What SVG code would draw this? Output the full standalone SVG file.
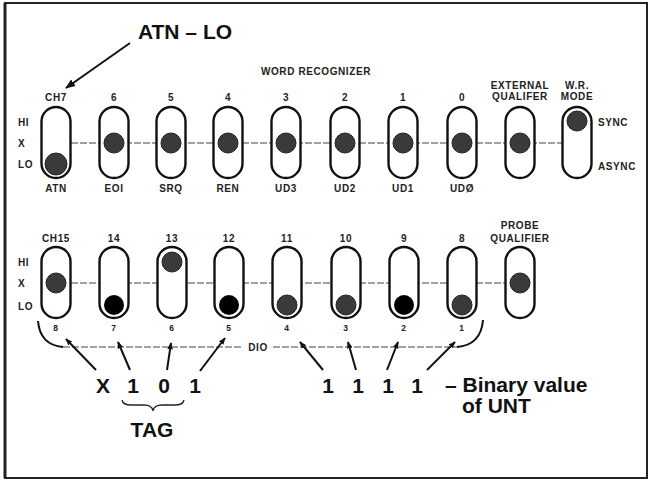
<svg xmlns="http://www.w3.org/2000/svg" width="653" height="481" viewBox="0 0 653 481">
<defs>
<marker id="ah" viewBox="0 0 10 10" refX="9" refY="5" markerWidth="7" markerHeight="7" markerUnits="userSpaceOnUse" orient="auto">
<path d="M0,1 L10,5 L0,9 z" fill="#111"/>
</marker>
<marker id="ahbig" viewBox="0 0 10 10" refX="9" refY="5" markerWidth="10" markerHeight="10" markerUnits="userSpaceOnUse" orient="auto">
<path d="M0,1 L10,5 L0,9 z" fill="#111"/>
</marker>
</defs>
<style>
.sw{fill:#fff;stroke:#111;stroke-width:2.4}
.dg{fill:#3a3a3a;stroke:#222;stroke-width:1}
.db{fill:#000}
.t{font-family:"Liberation Sans",Arial,sans-serif;font-weight:bold;fill:#222;font-size:10px;letter-spacing:0.6px}
.tc{text-anchor:middle}
.n{font-size:8.5px}
.big{font-family:"Liberation Sans",Arial,sans-serif;font-weight:bold;fill:#111;font-size:21px}
.cn{stroke:#444;stroke-width:1.2;stroke-dasharray:7 2;fill:none}
.ar{stroke:#111;stroke-width:2;fill:none}
</style>
<rect x="5" y="3" width="642" height="475" fill="#fff" stroke="#222" stroke-width="2"/>
<line x1="5" y1="3" x2="5" y2="478" stroke="#222" stroke-width="3"/>

<g id="title">
<text class="big" x="185" y="39" text-anchor="middle" font-size="23">ATN – LO</text>
<text class="t tc" x="316" y="75">WORD RECOGNIZER</text>
</g>

<g id="connectors">
<line class="cn" x1="71" y1="143" x2="562" y2="143"/>
<line class="cn" x1="71" y1="283" x2="505" y2="283"/>
<line class="ar" x1="130" y1="43" x2="66" y2="88" marker-end="url(#ahbig)"/>
<line class="cn" x1="63" y1="347" x2="243" y2="347"/>
<line class="cn" x1="273" y1="347" x2="457" y2="347"/>
<text class="t tc" x="258" y="351">DIO</text>
<path class="ar" d="M38,321 Q40,345 63,347" stroke-width="1.6"/>
<path class="ar" d="M483,320 Q481,345 457,347" stroke-width="1.6"/>
<line class="ar" x1="96" y1="370" x2="66" y2="339" marker-end="url(#ah)"/>
<line class="ar" x1="130" y1="370" x2="118" y2="342" marker-end="url(#ah)"/>
<line class="ar" x1="167" y1="370" x2="171" y2="343" marker-end="url(#ah)"/>
<line class="ar" x1="200" y1="371" x2="225" y2="338" marker-end="url(#ah)"/>
<line class="ar" x1="323" y1="370" x2="300" y2="342" marker-end="url(#ah)"/>
<line class="ar" x1="356" y1="370" x2="348" y2="342" marker-end="url(#ah)"/>
<line class="ar" x1="387" y1="370" x2="398" y2="342" marker-end="url(#ah)"/>
<line class="ar" x1="427" y1="370" x2="455" y2="342" marker-end="url(#ah)"/>
</g>

<g id="top-axis">
<text class="t" x="18" y="126">HI</text>
<text class="t" x="18" y="147">X</text>
<text class="t" x="18" y="168">LO</text>
</g>

<g id="ch7"><text class="t tc" x="56" y="101">CH7</text><rect class="sw" x="41.5" y="107" width="29" height="71" rx="14.5"/><circle class="dg" cx="56" cy="164" r="11"/><text class="t tc" x="56" y="192">ATN</text></g>
<g id="ch6"><text class="t tc" x="114" y="101">6</text><rect class="sw" x="99.5" y="107" width="29" height="71" rx="14.5"/><circle class="dg" cx="114" cy="143" r="10"/><text class="t tc" x="114" y="192">EOI</text></g>
<g id="ch5"><text class="t tc" x="171" y="101">5</text><rect class="sw" x="156.5" y="107" width="29" height="71" rx="14.5"/><circle class="dg" cx="171" cy="143" r="10"/><text class="t tc" x="171" y="192">SRQ</text></g>
<g id="ch4"><text class="t tc" x="228" y="101">4</text><rect class="sw" x="213.5" y="107" width="29" height="71" rx="14.5"/><circle class="dg" cx="228" cy="143" r="10"/><text class="t tc" x="228" y="192">REN</text></g>
<g id="ch3"><text class="t tc" x="286" y="101">3</text><rect class="sw" x="271.5" y="107" width="29" height="71" rx="14.5"/><circle class="dg" cx="286" cy="143" r="10"/><text class="t tc" x="286" y="192">UD3</text></g>
<g id="ch2"><text class="t tc" x="345" y="101">2</text><rect class="sw" x="330.5" y="107" width="29" height="71" rx="14.5"/><circle class="dg" cx="345" cy="143" r="10"/><text class="t tc" x="345" y="192">UD2</text></g>
<g id="ch1"><text class="t tc" x="403" y="101">1</text><rect class="sw" x="388.5" y="107" width="29" height="71" rx="14.5"/><circle class="dg" cx="403" cy="143" r="10"/><text class="t tc" x="403" y="192">UD1</text></g>
<g id="ch0"><text class="t tc" x="462" y="101">0</text><rect class="sw" x="447.5" y="107" width="29" height="71" rx="14.5"/><circle class="dg" cx="462" cy="143" r="10"/><text class="t tc" x="462" y="192">UDØ</text></g>
<g id="ext-qual"><text class="t tc" x="520" y="89">EXTERNAL</text><text class="t tc" x="520" y="100">QUALIFER</text><rect class="sw" x="505.5" y="107" width="29" height="71" rx="14.5"/><circle class="dg" cx="520" cy="143" r="10"/></g>
<g id="wr-mode"><text class="t tc" x="577" y="89">W.R.</text><text class="t tc" x="577" y="100">MODE</text><rect class="sw" x="562.5" y="107" width="29" height="71" rx="14.5"/><circle class="dg" cx="577" cy="121" r="10"/><text class="t" x="598" y="126">SYNC</text><text class="t" x="598" y="170">ASYNC</text></g>

<g id="bottom-axis">
<text class="t" x="18" y="266">HI</text>
<text class="t" x="18" y="287">X</text>
<text class="t" x="18" y="310">LO</text>
</g>

<g id="ch15"><text class="t tc" x="56" y="242">CH15</text><rect class="sw" x="41.5" y="247" width="29" height="71" rx="14.5"/><circle class="dg" cx="56" cy="283" r="10"/><text class="t tc n" x="56" y="331">8</text></g>
<g id="ch14"><text class="t tc" x="114" y="242">14</text><rect class="sw" x="99.5" y="247" width="29" height="71" rx="14.5"/><circle class="db" cx="114" cy="305" r="10"/><text class="t tc n" x="114" y="331">7</text></g>
<g id="ch13"><text class="t tc" x="172" y="242">13</text><rect class="sw" x="157.5" y="247" width="29" height="71" rx="14.5"/><circle class="dg" cx="172" cy="262" r="10"/><text class="t tc n" x="172" y="331">6</text></g>
<g id="ch12"><text class="t tc" x="229" y="242">12</text><rect class="sw" x="214.5" y="247" width="29" height="71" rx="14.5"/><circle class="db" cx="229" cy="305" r="10"/><text class="t tc n" x="229" y="331">5</text></g>
<g id="ch11"><text class="t tc" x="287" y="242">11</text><rect class="sw" x="272.5" y="247" width="29" height="71" rx="14.5"/><circle class="dg" cx="287" cy="305" r="10"/><text class="t tc n" x="287" y="331">4</text></g>
<g id="ch10"><text class="t tc" x="346" y="242">10</text><rect class="sw" x="331.5" y="247" width="29" height="71" rx="14.5"/><circle class="dg" cx="346" cy="305" r="10"/><text class="t tc n" x="346" y="331">3</text></g>
<g id="ch9"><text class="t tc" x="404" y="242">9</text><rect class="sw" x="389.5" y="247" width="29" height="71" rx="14.5"/><circle class="db" cx="404" cy="305" r="10"/><text class="t tc n" x="404" y="331">2</text></g>
<g id="ch8"><text class="t tc" x="462" y="242">8</text><rect class="sw" x="447.5" y="247" width="29" height="71" rx="14.5"/><circle class="dg" cx="462" cy="305" r="10"/><text class="t tc n" x="462" y="331">1</text></g>
<g id="probe-qual"><text class="t tc" x="520" y="229">PROBE</text><text class="t tc" x="520" y="242">QUALIFIER</text><rect class="sw" x="505.5" y="247" width="29" height="71" rx="14.5"/><circle class="dg" cx="520" cy="283" r="10"/></g>

<g id="values">
<text class="big" x="103" y="393" text-anchor="middle">X</text>
<text class="big" x="133" y="393" text-anchor="middle">1</text>
<text class="big" x="164" y="393" text-anchor="middle">0</text>
<text class="big" x="195" y="393" text-anchor="middle">1</text>
<text class="big" x="328" y="393" text-anchor="middle">1</text>
<text class="big" x="358" y="393" text-anchor="middle">1</text>
<text class="big" x="388" y="393" text-anchor="middle">1</text>
<text class="big" x="417" y="393" text-anchor="middle">1</text>
<text class="big" x="445" y="392" font-size="19">– Binary value</text>
<text class="big" x="462" y="413" font-size="19">of UNT</text>
<path d="M122,400 q1,5 9,5 h13 q8,0 9,6 q1,-6 9,-6 h13 q8,0 9,-5" fill="none" stroke="#222" stroke-width="1.3"/>
<text class="big" x="152" y="437" text-anchor="middle" font-size="20">TAG</text>
</g>
</svg>
